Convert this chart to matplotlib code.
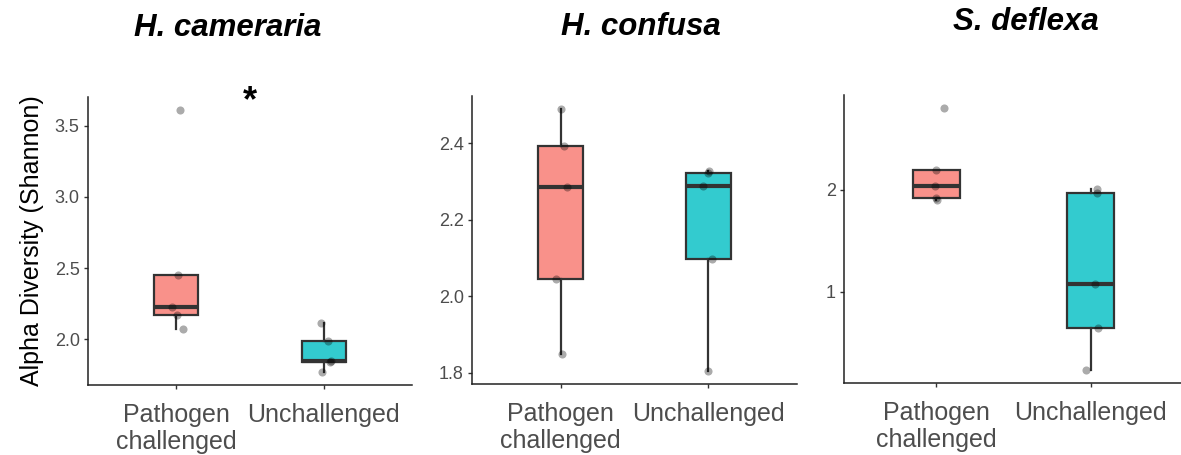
import numpy as np
import matplotlib
matplotlib.use("Agg")
import matplotlib.pyplot as plt
from matplotlib.colors import to_rgba

plt.rcParams['font.family'] = ['Liberation Sans', 'DejaVu Sans']

groups = ["Pathogen\nchallenged", "Unchallenged"]
species = ["H. cameraria", "H. confusa", "S. deflexa"]

# Shannon diversity per sample, one list per group
cameraria_path = [3.61, 2.455, 2.227, 2.17, 2.073]
cameraria_unch = [2.112, 1.991, 1.85, 1.843, 1.771]
confusa_path = [2.490, 2.394, 2.286, 2.046, 1.849]
confusa_unch = [2.328, 2.323, 2.288, 2.097, 1.805]
deflexa_path = [2.799, 2.189, 2.036, 1.915, 1.896]
deflexa_unch = [2.007, 1.968, 1.081, 0.648, 0.237]

# horizontal jitter of the sample points (category units)
cameraria_jit = [[0.026, 0.013, -0.028, 0.002, 0.045],
                 [-0.020, 0.031, 0.048, 0.040, -0.010]]
confusa_jit = [[0.002, 0.022, 0.041, -0.032, 0.009],
               [0.004, 0.000, -0.039, 0.024, -0.005]]
deflexa_jit = [[0.048, -0.004, -0.011, -0.002, 0.002],
               [0.039, 0.045, 0.030, 0.047, -0.032]]

fills = ["#F8766D", "#00BFC4"]
edge = "#333333"

W, H = 1181, 455
fig = plt.figure(figsize=(W / 100, H / 100), dpi=100)

def px_axes(left, right, top, bottom):
    return fig.add_axes([left / W, 1 - bottom / H, (right - left) / W, (bottom - top) / H])

panels = [
    (px_axes(88, 412, 97, 385), species[0], [cameraria_path, cameraria_unch], cameraria_jit, (228, 28)),
    (px_axes(472, 797, 96, 384), species[1], [confusa_path, confusa_unch], confusa_jit, (641, 27)),
    (px_axes(844, 1183, 95, 383), species[2], [deflexa_path, deflexa_unch], deflexa_jit, (1026, 22)),
]

for ax, name, data, jit, tpos in panels:
    bp = ax.boxplot(data, positions=[1, 2], widths=0.3, whis=1.5, patch_artist=True,
                    showfliers=False, showcaps=False,
                    medianprops=dict(color=edge, linewidth=3.0, solid_capstyle='butt'),
                    whiskerprops=dict(color=edge, linewidth=1.6),
                    boxprops=dict(edgecolor=edge, linewidth=1.6))
    for patch, c in zip(bp['boxes'], fills):
        patch.set_facecolor(to_rgba(c, 0.8))
    for i, (vals, off) in enumerate(zip(data, jit)):
        ax.scatter(np.full(len(vals), i + 1) + np.array(off), vals, s=34,
                   color='black', alpha=0.33, linewidths=0, zorder=5)

    allv = np.concatenate(data)
    rng = allv.max() - allv.min()
    ax.set_ylim(allv.min() - 0.05 * rng, allv.max() + 0.05 * rng)
    ax.set_xlim(0.4, 2.6)
    ax.set_xticks([1, 2])
    ax.set_xticklabels(groups, linespacing=1.17)

    for s in ['top', 'right']:
        ax.spines[s].set_visible(False)
    for s in ['left', 'bottom']:
        ax.spines[s].set_color('#222222')
        ax.spines[s].set_linewidth(1.1)
    ax.tick_params(axis='x', length=3, width=1, color='#333333', pad=10,
                   labelsize=18, labelcolor='#4D4D4D')
    ax.tick_params(axis='y', length=3, width=1, color='#333333', pad=3,
                   labelsize=13, labelcolor='#4D4D4D')

    fig.text(tpos[0] / W, 1 - tpos[1] / H, name, ha='center', va='center',
             fontsize=22.5, fontweight='bold', fontstyle='italic')

ax1 = panels[0][0]
ax1.set_yticks([2.0, 2.5, 3.0, 3.5])
ax1.set_yticklabels(["2.0", "2.5", "3.0", "3.5"])
ax1.set_ylabel("Alpha Diversity (Shannon)", fontsize=18, labelpad=8)
ax1.annotate("*", xy=(1.5, 0.985), xycoords=('data', 'axes fraction'),
             ha='center', va='center', fontsize=26, fontweight='bold',
             annotation_clip=False)

panels[1][0].set_yticks([1.8, 2.0, 2.2, 2.4])
panels[2][0].set_yticks([1, 2])

fig.savefig("out.png", dpi=100)
